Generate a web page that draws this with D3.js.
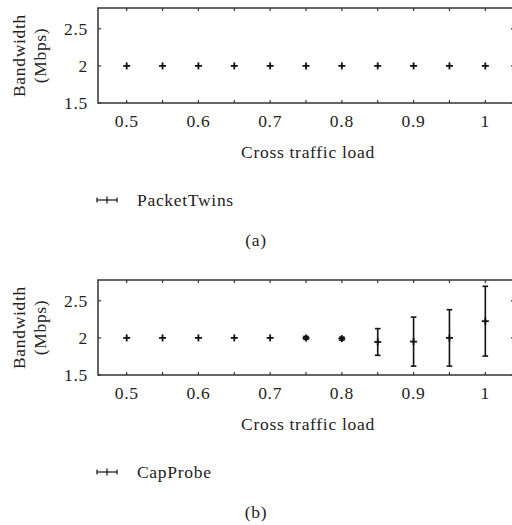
<!DOCTYPE html>
<html>
<head>
<meta charset="utf-8">
<script src="https://cdn.jsdelivr.net/npm/d3@7"></script>
<style>
  body { margin: 0; background: #fff; }
  svg { display: block; }
  text { font-family: "Liberation Serif", "DejaVu Serif", serif; fill: #222; letter-spacing: 0.7px; }
</style>
</head>
<body>
<svg id="chart" width="512" height="525"></svg>
<script>
// cross traffic load values
const loads = [0.5, 0.55, 0.6, 0.65, 0.7, 0.75, 0.8, 0.85, 0.9, 0.95, 1.0];
// panel (a) PacketTwins
const twinsMean = [2, 2, 2, 2, 2, 2, 2, 2, 2, 2, 2];
const twinsErr = [0, 0, 0, 0, 0, 0, 0, 0, 0, 0, 0];
// panel (b) CapProbe
const capMean = [2, 2, 2, 2, 2, 2, 1.99, 1.945, 1.95, 2.0, 2.225];
const capErr = [0, 0, 0, 0, 0, 0.02, 0.02, 0.18, 0.33, 0.38, 0.47];

const xTicks = [0.5, 0.6, 0.7, 0.8, 0.9, 1.0];
const xMinor = [0.5, 0.55, 0.6, 0.65, 0.7, 0.75, 0.8, 0.85, 0.9, 0.95, 1.0];
const yTicks = [1.5, 2, 2.5];

const svg = d3.select('#chart');
const left = 98, right = 514;
const fs = 17.5;

function panel(top, bottom, means, errs, name, tag) {
    const x = d3.scaleLinear().domain([0.46, 1.04]).range([left, right]);
    const y = d3.scaleLinear().domain([1.5, 2.78]).range([bottom, top]);
    const g = svg.append('g');

    // frame
    g.append('rect')
        .attr('x', left).attr('y', top)
        .attr('width', right - left).attr('height', bottom - top)
        .attr('fill', 'none').attr('stroke', '#333').attr('stroke-width', 1.5);

    // inward ticks on all sides
    const tl = 3;
    xMinor.forEach(v => {
        g.append('line').attr('x1', x(v)).attr('x2', x(v)).attr('y1', bottom).attr('y2', bottom - tl)
            .attr('stroke', '#333').attr('stroke-width', 1.2);
        g.append('line').attr('x1', x(v)).attr('x2', x(v)).attr('y1', top).attr('y2', top + tl)
            .attr('stroke', '#333').attr('stroke-width', 1.2);
    });
    yTicks.forEach(v => {
        g.append('line').attr('x1', left).attr('x2', left + tl).attr('y1', y(v)).attr('y2', y(v))
            .attr('stroke', '#333').attr('stroke-width', 1.2);
        g.append('line').attr('x1', right).attr('x2', right - tl).attr('y1', y(v)).attr('y2', y(v))
            .attr('stroke', '#333').attr('stroke-width', 1.2);
    });

    g.selectAll('.xl').data(xTicks).join('text')
        .attr('x', d => x(d)).attr('y', bottom + 24)
        .attr('text-anchor', 'middle').attr('font-size', fs)
        .text(d => d3.format('~g')(d));
    g.selectAll('.yl').data(yTicks).join('text')
        .attr('x', left - 10).attr('y', d => y(d) + 6)
        .attr('text-anchor', 'end').attr('font-size', fs)
        .text(d => d3.format('~g')(d));

    // axis titles
    const cy = (top + bottom) / 2;
    g.append('text').attr('transform', `translate(25,${cy}) rotate(-90)`)
        .attr('text-anchor', 'middle').attr('font-size', fs).text('Bandwidth');
    g.append('text').attr('transform', `translate(46,${cy}) rotate(-90)`)
        .attr('text-anchor', 'middle').attr('font-size', fs).text('(Mbps)');
    g.append('text').attr('x', 308).attr('y', bottom + 55)
        .attr('text-anchor', 'middle').attr('font-size', fs).text('Cross traffic load');

    // error bars + markers
    const pts = loads.map((l, i) => ({ l, m: means[i], e: errs[i] }));
    const cap = 2.8, mk = 3.5;
    const pg = g.selectAll('.pt').data(pts).join('g');
    pg.filter(d => d.e > 0).each(function (d) {
        const s = d3.select(this);
        s.append('line').attr('x1', x(d.l)).attr('x2', x(d.l))
            .attr('y1', y(d.m - d.e)).attr('y2', y(d.m + d.e))
            .attr('stroke', '#111').attr('stroke-width', 1.6);
        [d.m - d.e, d.m + d.e].forEach(v => {
            s.append('line').attr('x1', x(d.l) - cap).attr('x2', x(d.l) + cap)
                .attr('y1', y(v)).attr('y2', y(v))
                .attr('stroke', '#111').attr('stroke-width', 1.6);
        });
    });
    pg.append('line').attr('x1', d => x(d.l) - mk).attr('x2', d => x(d.l) + mk)
        .attr('y1', d => y(d.m)).attr('y2', d => y(d.m))
        .attr('stroke', '#111').attr('stroke-width', 1.8);
    pg.append('line').attr('x1', d => x(d.l)).attr('x2', d => x(d.l))
        .attr('y1', d => y(d.m) - mk).attr('y2', d => y(d.m) + mk)
        .attr('stroke', '#111').attr('stroke-width', 1.8);

    // legend
    const ly = bottom + 97, lx0 = 97, lx1 = 117;
    g.append('line').attr('x1', lx0).attr('x2', lx1).attr('y1', ly).attr('y2', ly)
        .attr('stroke', '#111').attr('stroke-width', 1.2);
    [lx0, (lx0 + lx1) / 2, lx1].forEach((v, i) => {
        const h = i === 1 ? 3.5 : 2.5;
        g.append('line').attr('x1', v).attr('x2', v).attr('y1', ly - h).attr('y2', ly + h)
            .attr('stroke', '#111').attr('stroke-width', 1.2);
    });
    g.append('text').attr('x', 137).attr('y', ly + 6).attr('font-size', fs).text(name);

    g.append('text').attr('x', 256).attr('y', bottom + 143)
        .attr('text-anchor', 'middle').attr('font-size', fs).text(tag);
}

panel(8, 103, twinsMean, twinsErr, 'PacketTwins', '(a)');
panel(280, 375, capMean, capErr, 'CapProbe', '(b)');
</script>
</body>
</html>
